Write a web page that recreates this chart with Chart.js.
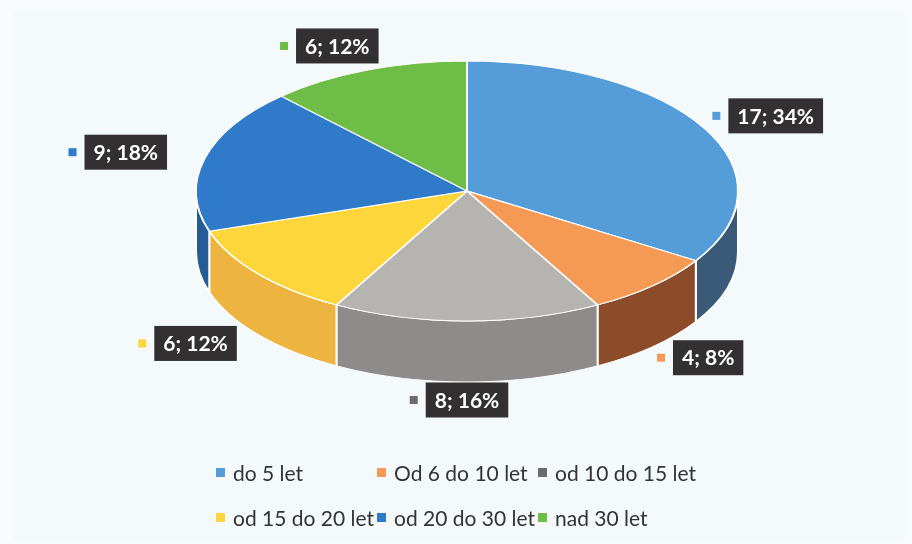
<!DOCTYPE html>
<html>
<head>
<meta charset="utf-8">
<script src="https://cdn.jsdelivr.net/npm/chart.js@4.4.0/dist/chart.umd.min.js"></script>
<style>
    html, body { margin: 0; padding: 0; background: #f8fbfc; }
    #wrap { position: relative; width: 912px; height: 544px; overflow: hidden; }
    #frame { position: absolute; left: 13px; top: 12px; width: 892px; height: 528px; background: #f4f9fb; }
    #grafico { position: absolute; left: 0; top: 0; }
    #legenda { position: absolute; left: 216px; top: 458px; display: grid; grid-template-columns: 161px 161px 200px; row-gap: 16px;
        font-family: Lato, "Open Sans", sans-serif; font-size: 21px; color: #333; }
    .item { display: flex; align-items: center; white-space: nowrap; height: 29px; }
    .quad { width: 9px; height: 9px; margin-right: 8px; }
</style>
</head>
<body>
<div id="wrap">
    <div id="frame"></div>
    <canvas id="grafico" width="912" height="544"></canvas>
    <div id="legenda"></div>
</div>
<script>
// dados do gráfico
var categorias = ["do 5 let", "Od 6 do 10 let", "od 10 do 15 let", "od 15 do 20 let", "od 20 do 30 let", "nad 30 let"];
var valores = [17, 4, 8, 6, 9, 6];

// cores: topo, lateral (3D) e legenda
var coresTopo = ["#559dd8", "#f59a55", "#b6b4b1", "#fcd63a", "#2f7bc9", "#6ebd46"];
var coresLateral = ["#3b5a78", "#8c4b29", "#8e8c8a", "#edb43f", "#245c96", "#4f8a32"];
var coresLegenda = ["#559dd8", "#f59a55", "#6b6b6b", "#fcd63a", "#2f7bc9", "#6ebd46"];

var total = valores.reduce(function (a, b) { return a + b; }, 0);

// geometria da "pizza" 3D
var centroX = 467, centroY = 191, raio = 271;
var escalaY = 130 / 271;
var profundidade = 61;

function desenharLateral(ctx, arco, cor) {
    var ini = Math.max(arco.startAngle, 0);
    var fim = Math.min(arco.endAngle, Math.PI);
    if (ini >= fim) return;
    var prof = profundidade / escalaY;
    ctx.beginPath();
    ctx.arc(arco.x, arco.y, arco.outerRadius, ini, fim);
    ctx.arc(arco.x, arco.y + prof, arco.outerRadius, fim, ini, true);
    ctx.closePath();
    ctx.fillStyle = cor;
    ctx.fill();
    ctx.lineWidth = 2;
    ctx.strokeStyle = "#ffffff";
    ctx.stroke();
}

const pizza3d = {
    id: "pizza3d",
    beforeDatasetsDraw(chart) {
        const ctx = chart.ctx;
        const meta = chart.getDatasetMeta(0);
        ctx.save();
        ctx.translate(centroX, centroY);
        ctx.scale(1, escalaY);
        ctx.translate(-centroX, -centroY);
        for (let i = 0; i < meta.data.length; i++) {
            desenharLateral(ctx, meta.data[i], coresLateral[i]);
        }
    },
    afterDatasetsDraw(chart) {
        chart.ctx.restore();
    }
};

// rótulos "valor; porcentagem" com caixa escura
const rotulos = {
    id: "rotulos",
    afterDraw(chart) {
        const ctx = chart.ctx;
        const meta = chart.getDatasetMeta(0);
        ctx.save();
        ctx.font = "bold 21px Lato, 'Open Sans', sans-serif";
        ctx.textAlign = "center";
        ctx.textBaseline = "middle";
        for (let i = 0; i < meta.data.length; i++) {
            const arco = meta.data[i];
            const meio = (arco.startAngle + arco.endAngle) / 2;
            const cos = Math.cos(meio), sin = Math.sin(meio);
            const x = arco.x + cos * arco.outerRadius * 1.3;
            let y = arco.y + sin * arco.outerRadius * escalaY * 1.2;
            if (sin > 0.05) y += profundidade - 8;
            const texto = valores[i] + "; " + Math.round(valores[i] * 100 / total) + "%";
            const larg = ctx.measureText(texto).width + 18;
            const alt = 35;
            ctx.fillStyle = "#323030";
            ctx.fillRect(x - larg / 2, y - alt / 2, larg, alt);
            ctx.fillStyle = "#ffffff";
            ctx.fillText(texto, x, y + 1);
            ctx.fillStyle = coresLegenda[i];
            ctx.fillRect(x - larg / 2 - 16, y - 4, 8, 8);
        }
        ctx.restore();
    }
};

// legenda em HTML, três colunas iguais
const legendaHtml = {
    id: "legendaHtml",
    afterUpdate(chart) {
        const caixa = document.getElementById("legenda");
        caixa.innerHTML = "";
        chart.data.labels.forEach(function (nome, i) {
            const item = document.createElement("div");
            item.className = "item";
            const quad = document.createElement("span");
            quad.className = "quad";
            quad.style.background = coresLegenda[i];
            const txt = document.createElement("span");
            txt.textContent = nome;
            item.appendChild(quad);
            item.appendChild(txt);
            caixa.appendChild(item);
        });
    }
};

const dados = {
    labels: categorias,
    datasets: [{
        data: valores,
        backgroundColor: coresTopo,
        borderColor: "#ffffff",
        borderWidth: 2,
        clip: false
    }]
};

const config = {
    type: "pie",
    data: dados,
    options: {
        responsive: false,
        animation: false,
        events: [],
        devicePixelRatio: 1,
        radius: raio,
        layout: { padding: { left: 2 * centroX - 912, right: 0, top: 0, bottom: 544 - 2 * centroY } },
        plugins: {
            legend: { display: false },
            tooltip: { enabled: false }
        }
    },
    plugins: [pizza3d, rotulos, legendaHtml]
};

let myChart = new Chart(document.getElementById("grafico"), config);
</script>
</body>
</html>
